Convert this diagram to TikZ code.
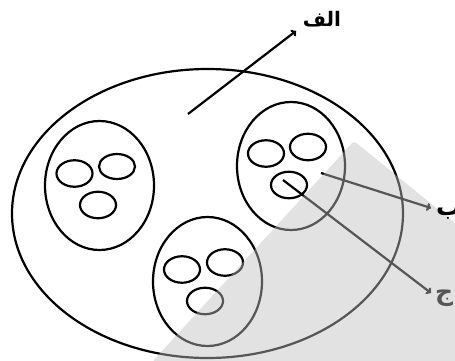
\documentclass[tikz,border=0pt]{standalone}
\usepackage{fontspec}
\newfontfamily\arabicfont[Script=Arabic]{DejaVu Sans}
\TeXXeTstate=1
\usetikzlibrary{shapes.geometric,arrows.meta}
\begin{document}
\begin{tikzpicture}[x=1pt,y=-1pt,
  blob/.style={draw=black,line width=2.2pt,ellipse,inner sep=0pt},
  cell/.style={blob,minimum width=109pt,minimum height=129pt},
  dot/.style={blob,minimum width=36pt,minimum height=26.5pt},
  pointer/.style={draw=black,line width=2.2pt,-{To[length=4.5pt,width=8pt]}},
  lab/.style={font=\arabicfont\bfseries\fontsize{20}{24}\selectfont,inner sep=0pt},
  sidelab/.style={font=\arabicfont\bfseries\fontsize{25}{30}\selectfont,inner sep=0pt}]
\useasboundingbox (0,0) rectangle (455,361);
\fill[white] (0,0) rectangle (455,361);
% big ellipse
\node[blob,minimum width=391pt,minimum height=289pt] (big) at (207.5,213.5) {};
% left cell
\node[cell] (c1) at (99.5,185.5) {};
\node[dot] (c1a) at (74.5,173.5) {};
\node[dot,minimum height=25pt] (c1b) at (117,166.5) {};
\node[dot] (c1c) at (98,205) {};
% right cell
\node[cell,minimum width=108pt,minimum height=128pt] (c2) at (291,166) {};
\node[dot] (c2a) at (266,153.5) {};
\node[dot] (c2b) at (308,147) {};
\node[dot] (c2c) at (289,185) {};
% bottom cell
\node[cell] (c3) at (207.5,281.5) {};
\node[dot] (c3a) at (182,269.5) {};
\node[dot] (c3b) at (225,262.5) {};
\node[dot] (c3c) at (205,301) {};
% labels
\node[lab,anchor=base] (alef) at (322,27) {\beginR الف\endR};
\node[sidelab,anchor=base west] (jim) at (435,300) {\beginR ج\endR};
% arrows
\coordinate (s1) at (188,114);
\coordinate (t1) at (296,31);
\coordinate (s2) at (321,173);
\coordinate (t2) at (431,208);
\coordinate (s3) at (283,180);
\coordinate (t3) at (431,293);
\draw[pointer] (s1) -- (t1);
\draw[pointer] (s2) -- (t2);
\draw[pointer] (s3) -- (t3);
% translucent grey sheet
\fill[black!25,fill opacity=0.45,rounded corners=3pt] (152,362) -- (354,141) -- (456,224) -- (456,362) -- cycle;
\node[sidelab,anchor=base west] (be) at (436,215) {\beginR ب\endR};
\end{tikzpicture}
\end{document}
